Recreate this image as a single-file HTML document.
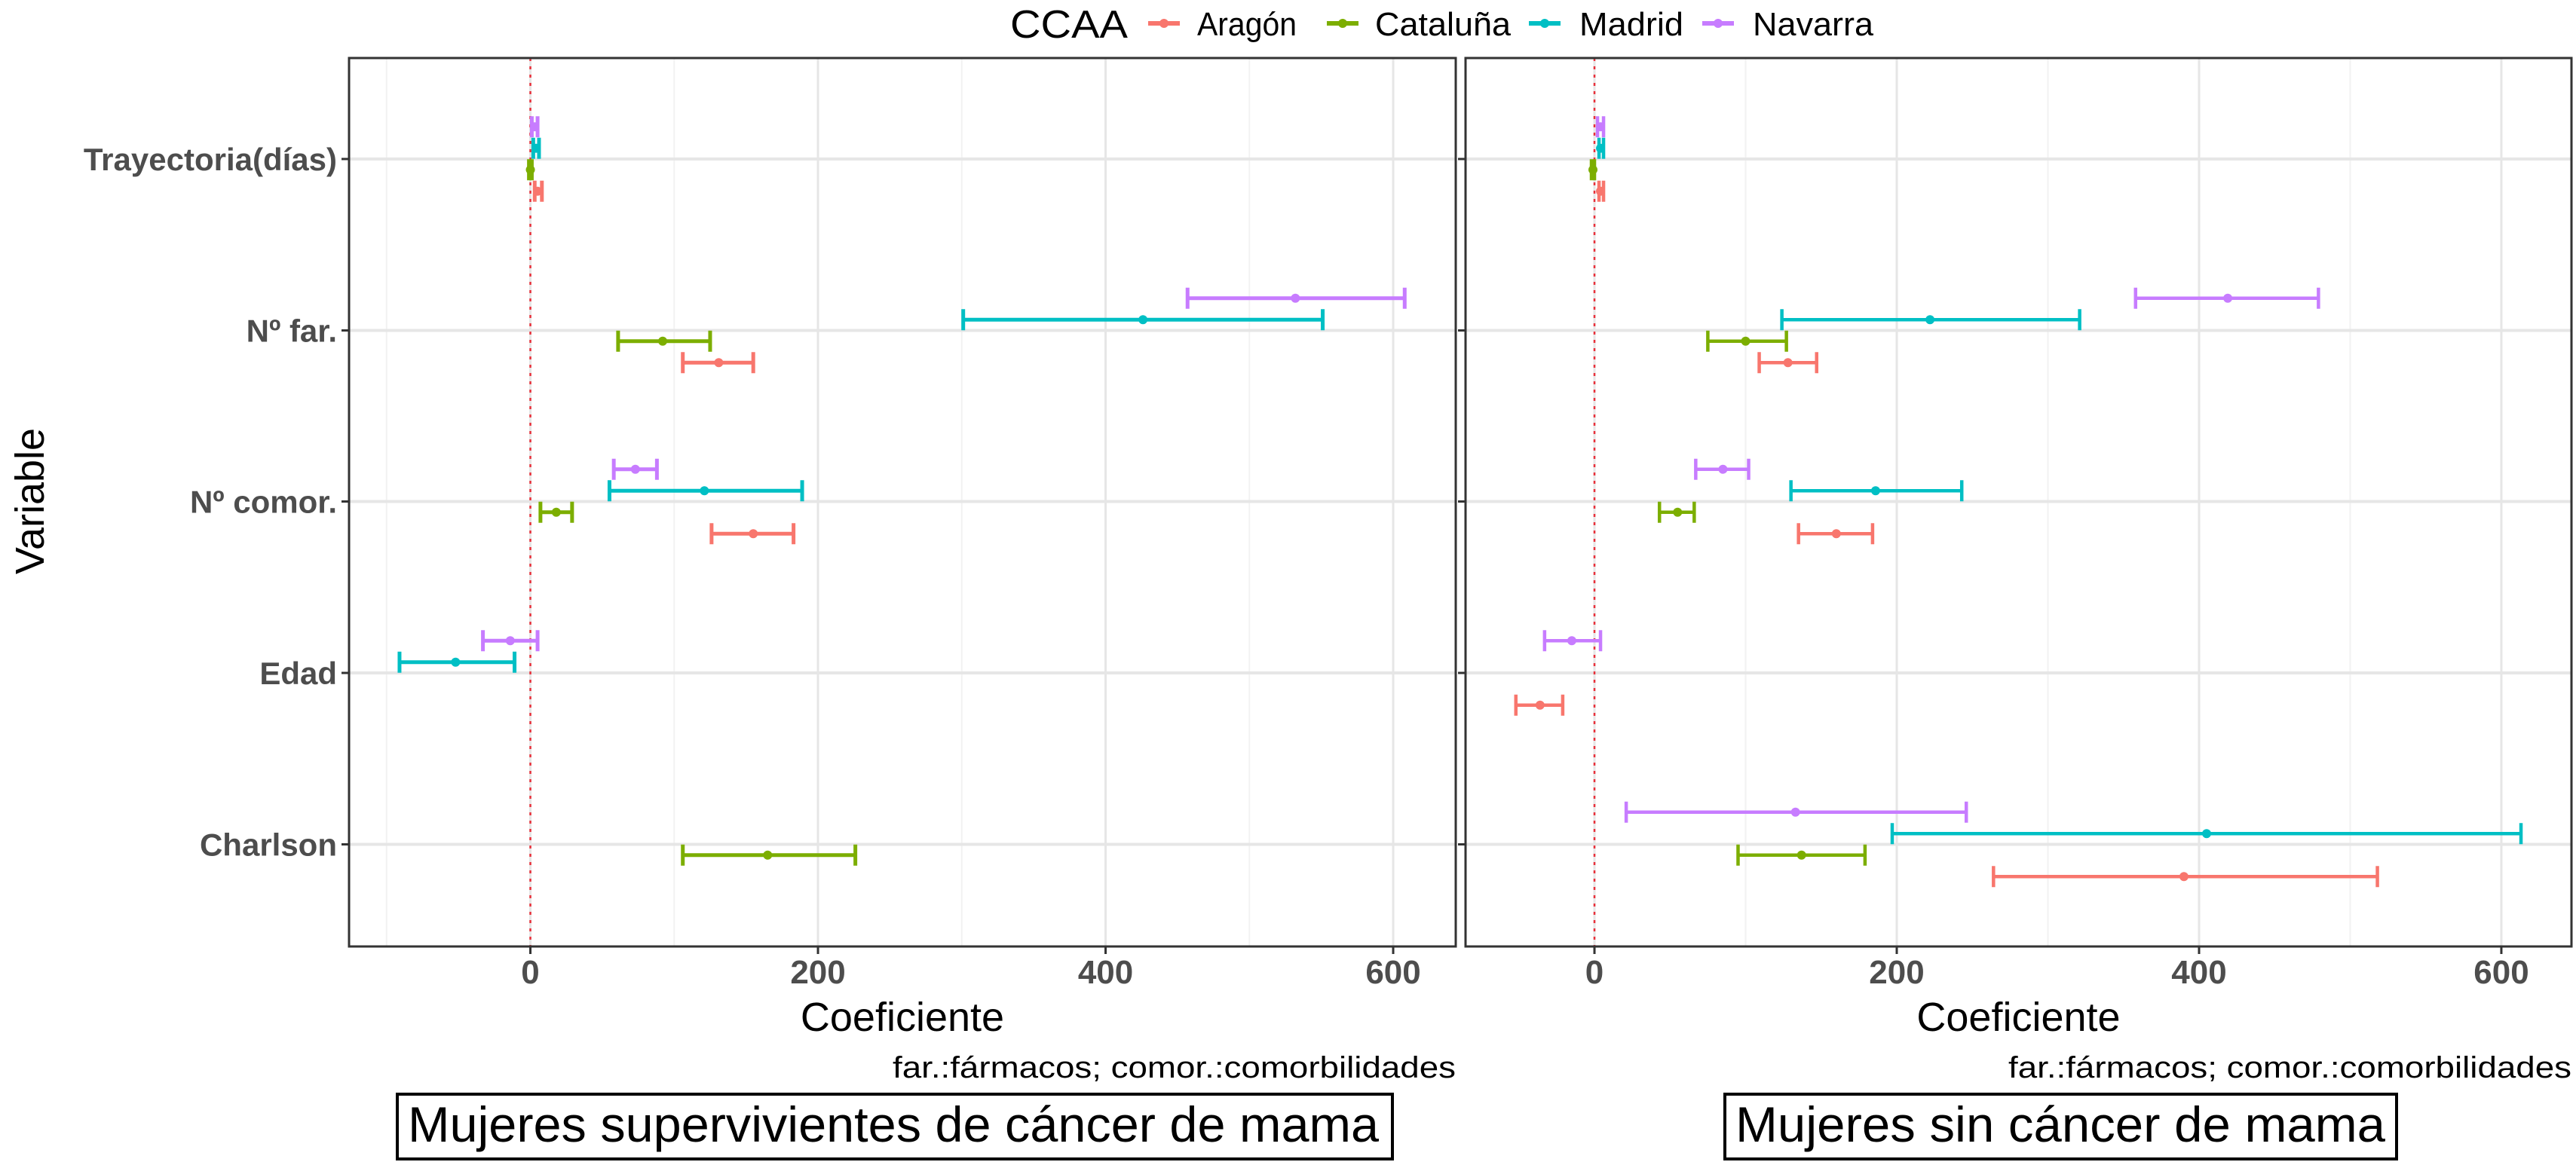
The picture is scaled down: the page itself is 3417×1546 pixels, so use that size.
<!DOCTYPE html>
<html><head><meta charset="utf-8"><style>
html,body{margin:0;padding:0;background:#fff;}
svg{display:block;font-family:"Liberation Sans",sans-serif;}
</style></head><body>
<svg id="chart" width="3417" height="1546" viewBox="0 0 3417 1546" xmlns="http://www.w3.org/2000/svg">
<rect x="0" y="0" width="3417" height="1546" fill="#fff"/>
<g id="legend">
<text x="1340" y="50" font-size="52" textLength="156" lengthAdjust="spacingAndGlyphs" fill="#000">CCAA</text>
</g>
<g id="panels"></g>
</svg>
<script>
const variables = ["Trayectoria(días)", "Nº far.", "Nº comor.", "Edad", "Charlson"];
const regions = ["Navarra", "Madrid", "Cataluña", "Aragón"];
const regionColors = {"Aragón":"#F8766D","Cataluña":"#7CAE00","Madrid":"#00BFC4","Navarra":"#C77CFF"};
const xTicks = [0, 200, 400, 600];
const xMinor = [-100, 100, 300, 500];
// Left panel (supervivientes): [variable, region, lo, mean, hi]
const leftData = [
 ["Trayectoria(días)","Navarra",1,3,5],
 ["Trayectoria(días)","Madrid",2,4,6],
 ["Trayectoria(días)","Cataluña",-1,0,1],
 ["Trayectoria(días)","Aragón",3,5,8],
 ["Nº far.","Navarra",457,532,608],
 ["Nº far.","Madrid",301,426,551],
 ["Nº far.","Cataluña",61,92,125],
 ["Nº far.","Aragón",106,131,155],
 ["Nº comor.","Navarra",58,73,88],
 ["Nº comor.","Madrid",55,121,189],
 ["Nº comor.","Cataluña",7,18,29],
 ["Nº comor.","Aragón",126,155,183],
 ["Edad","Navarra",-33,-14,5],
 ["Edad","Madrid",-91,-52,-11],
 ["Charlson","Cataluña",106,165,226]
];
// Right panel (sin cáncer)
const rightData = [
 ["Trayectoria(días)","Navarra",2,4,6],
 ["Trayectoria(días)","Madrid",3,4,6],
 ["Trayectoria(días)","Cataluña",-2,-1,0],
 ["Trayectoria(días)","Aragón",3,4,6],
 ["Nº far.","Navarra",358,419,479],
 ["Nº far.","Madrid",124,222,321],
 ["Nº far.","Cataluña",75,100,127],
 ["Nº far.","Aragón",109,128,147],
 ["Nº comor.","Navarra",67,85,102],
 ["Nº comor.","Madrid",130,186,243],
 ["Nº comor.","Cataluña",43,55,66],
 ["Nº comor.","Aragón",135,160,184],
 ["Edad","Navarra",-33,-15,4],
 ["Edad","Aragón",-52,-36,-21],
 ["Charlson","Navarra",21,133,246],
 ["Charlson","Madrid",197,405,613],
 ["Charlson","Cataluña",95,137,179],
 ["Charlson","Aragón",264,390,518]
];
const NS="http://www.w3.org/2000/svg";
const svg=document.getElementById('chart');
const panelsG=document.getElementById('panels');
const legendG=document.getElementById('legend');
function mk(tag,attrs,parent){const e=document.createElementNS(NS,tag);for(const k in attrs)e.setAttribute(k,attrs[k]);(parent||svg).appendChild(e);return e;}

const legendItems=[["Aragón",1523,1588,132],["Cataluña",1760,1824,180],["Madrid",2028,2095,138],["Navarra",2258,2325,160]];
legendItems.forEach(([r,kx,tx,tw])=>{
  const g=mk('g',{},legendG);
  
  
  const l=mk('line',{x1:kx,x2:kx+42,y1:31,y2:31,stroke:regionColors[r],'stroke-width':6},g);
  
  
  const c=mk('circle',{cx:kx+21,cy:31,r:6,fill:regionColors[r]},g);
  
  
  const t=mk('text',{x:tx,y:47,'font-size':44,textLength:tw,lengthAdjust:'spacingAndGlyphs',fill:'#000'},g);
  t.textContent=r;
  
  
});

const rowY=[211,438.5,665.5,893,1120.5];
const offsets={"Navarra":-42.75,"Madrid":-14.25,"Cataluña":14.25,"Aragón":42.75};
function drawPanel(p){
  const g=mk('g',{},panelsG);
  
  
  const x=v=>p.x0+(v-p.vmin)/(p.vmax-p.vmin)*(p.x1-p.x0);
  const top=77,bot=1256;
  mk('rect',{x:p.x0,y:top,width:p.x1-p.x0,height:bot-top,fill:'#fff'},g);
  xMinor.forEach(v=>{ if(v>p.vmin&&v<p.vmax){const l=mk('line',{x1:x(v),x2:x(v),y1:top,y2:bot,stroke:'#f2f2f2','stroke-width':2},g);}});
  xTicks.forEach(v=>{const l=mk('line',{x1:x(v),x2:x(v),y1:top,y2:bot,stroke:'#e6e6e6','stroke-width':3},g);});
  rowY.forEach(y=>{const l=mk('line',{x1:p.x0,x2:p.x1,y1:y,y2:y,stroke:'#e6e6e6','stroke-width':4},g);});
  const zl=mk('line',{x1:x(0),x2:x(0),y1:top,y2:bot,stroke:'#e8303a','stroke-width':2.5,'stroke-dasharray':'4 7'},g);
  
  
  p.data.forEach(([vr,rg,lo,m,hi])=>{
    const y=rowY[variables.indexOf(vr)]+offsets[rg];
    const col=regionColors[rg];
    const eg=mk('g',{stroke:col,'stroke-width':p.sw,fill:col},g);
    
    
    mk('line',{x1:x(lo),x2:x(hi),y1:y,y2:y},eg);
    mk('line',{x1:x(lo),x2:x(lo),y1:y-14,y2:y+14},eg);
    mk('line',{x1:x(hi),x2:x(hi),y1:y-14,y2:y+14},eg);
    const c=mk('circle',{cx:x(m),cy:y,r:6,stroke:'none'},eg);
    
    
  });
  const fr=mk('rect',{x:p.x0,y:top,width:p.x1-p.x0,height:bot-top,fill:'none',stroke:'#333','stroke-width':3},g);
  
  
  xTicks.forEach(v=>{
    mk('line',{x1:x(v),x2:x(v),y1:bot,y2:bot+10,stroke:'#333','stroke-width':3},g);
    const t=mk('text',{x:x(v),y:1305,'font-size':44,'font-weight':'bold','text-anchor':'middle',fill:'#4d4d4d'},g);
    t.textContent=v;
    
    
  });
  rowY.forEach((y,i)=>{
    mk('line',{x1:p.x0-10,x2:p.x0,y1:y,y2:y,stroke:'#333','stroke-width':3},g);
    if(p.labels){
      const t=mk('text',{x:p.x0-16,y:y+15,'font-size':42,'font-weight':'bold','text-anchor':'end',fill:'#4d4d4d'},g);
      t.textContent=variables[i];
      
      
    }
  });
  const xt=mk('text',{x:(p.x0+p.x1)/2,y:1368,'font-size':54,'text-anchor':'middle',fill:'#000'},g);
  xt.textContent='Coeficiente';
  
  
  const fn=mk('text',{x:p.x1-747,y:1430,'font-size':40,textLength:747,lengthAdjust:'spacingAndGlyphs',fill:'#000'},g);
  fn.textContent='far.:fármacos; comor.:comorbilidades';
  
  
  const bx=mk('rect',{x:p.bx0,y:1452,width:p.bx1-p.bx0,height:86,fill:'#fff',stroke:'#000','stroke-width':4},g);
  
  
  const bt=mk('text',{x:p.tx0,y:1515,'font-size':66,textLength:p.tw,lengthAdjust:'spacingAndGlyphs',fill:'#000'},g);
  bt.textContent=p.title;
  
  
}
drawPanel({name:'panel-supervivientes',x0:463,x1:1931,vmin:-126.1,vmax:643.5,data:leftData,labels:true,sw:5,
  bx0:527,bx1:1847,tx0:541,tw:1288,title:'Mujeres supervivientes de cáncer de mama'});
drawPanel({name:'panel-sin-cancer',x0:1944,x1:3411,vmin:-85.3,vmax:646.4,data:rightData,labels:false,sw:4.5,
  bx0:2288,bx1:3179,tx0:2302,tw:862,title:'Mujeres  sin cáncer de mama'});
const yt=mk('text',{x:0,y:0,'font-size':54,'text-anchor':'middle',fill:'#000',transform:'translate(58,665) rotate(-90)'});
yt.textContent='Variable';


</script>
</body></html>
